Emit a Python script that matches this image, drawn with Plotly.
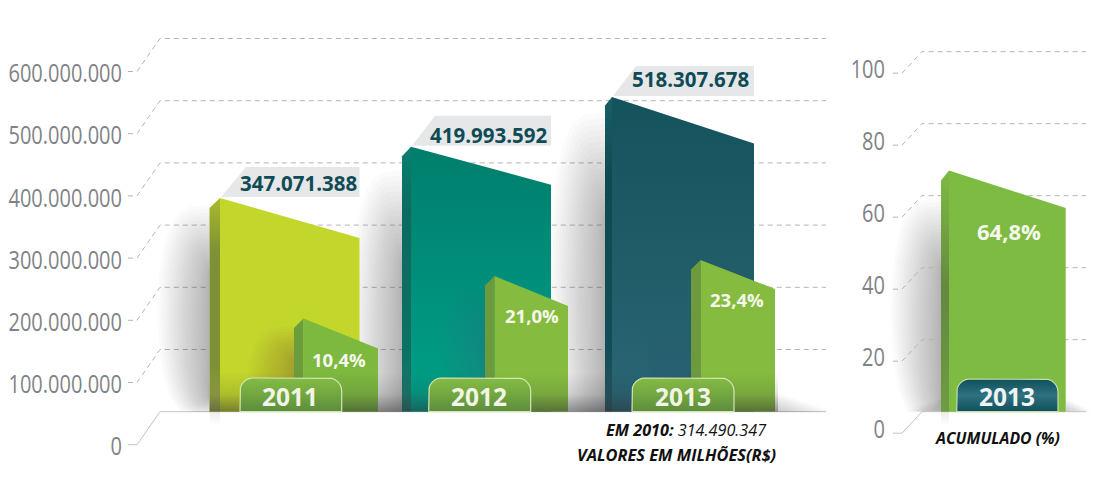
import math
import plotly.graph_objects as go

# ---------- data ----------
years = ["2011", "2012", "2013"]
total_labels = [347071388, 419993592, 518307678]
# bar heights as they are actually drawn in the picture
total_heights = [343500000, 426000000, 506000000]
pct_labels = ["10,4%", "21,0%", "23,4%"]
pct_heights = [150000000, 218000000, 244000000]
left_ticks = [0, 100000000, 200000000, 300000000, 400000000, 500000000, 600000000]
right_ticks = [0, 20, 40, 60, 80, 100]
acc_year = "2013"
acc_label = "64,8%"
acc_height = 67
note_2010 = "<b><i>EM 2010:</i></b> <i>314.490.347</i>"
note_units = "<b><i>VALORES EM MILHÕES(R$)</i></b>"
note_acc = "<b><i>ACUMULADO (%)</i></b>"

# ---------- layout constants (pixels) ----------
W, H = 1107, 489
BASE = 411.7
KL = 62.2 / 100000000   # px per unit, left axis
KR = 3.6                # px per unit, right axis
BOLD = "Open Sans"

BAR_X = [(209.5, 220, 359.5), (402, 411, 551), (605, 612, 754)]
BAR_DROP = [40, 38, 46.5]
BAR_SIDE = [10, 9.5, 8.5]
SMALL_X = [(294, 303.5, 378), (485, 494.5, 568), (691, 700.5, 775)]
SMALL_DROP = [30, 30, 29]
ACC_X = (941, 949, 1065.7)
BADGE_X = [(240, 341.7), (428.7, 530.7), (632, 734)]
ACC_BADGE_X = (956.7, 1058)

FRONT = [["#C3D62B", "#C3D62B"], ["#007E6C", "#00A088"], ["#14525C", "#2A6674"]]
SIDE = [["#A9BA2C", "#7E9134", "#7E9134", "#A7B24A"],
        ["#0A7F6E", "#0C6A5E", "#0D7264", "#1F7A6E"],
        ["#1A5F66", "#0F4A52", "#124E57", "#2A5560"]]
SMALL_FRONT = ["#7DB93F", "#85BC3F", "#85BC3F"]
SMALL_SIDE = ["#6B9C3E", "#6E9A3E", "#6E9A3E"]
SMALL_SHADOW = ["125,100,60", "70,130,120", "75,110,120"]

fig = go.Figure()


def py_left(p):
    return (BASE - p) / KL


def py_right(p):
    return (BASE - p) / KR


def poly(xs, ys, color=None, axis="y", grad=None, line=None):
    kw = {}
    if grad is not None:
        kw["fillgradient"] = grad
    else:
        kw["fillcolor"] = color
    fig.add_trace(go.Scatter(
        x=list(xs) + [xs[0]], y=list(ys) + [ys[0]], mode="lines", fill="toself",
        line=line or dict(width=0), yaxis=axis, hoverinfo="skip", showlegend=False, **kw))


def vgrad(p_top, p_bot, stops, fn=py_left, pos=None):
    # stops listed from top to bottom
    n = len(stops)
    pos = pos or [i / (n - 1) for i in range(n)]
    scale = [[1 - pos[n - 1 - i], stops[n - 1 - i]] for i in range(n)]
    return dict(type="vertical", colorscale=scale, start=fn(p_bot), stop=fn(p_top))


def blob(x1, w, p_top, p_bot, alpha, rgb="70,70,80", fn=py_left, axis="y", layers=22, clip=BASE):
    # soft shadow: nested half-ellipses stacked with a tiny opacity each
    a = alpha / layers
    for i in range(layers):
        t = ((i + 1) / layers) ** 1.2
        top = p_top + (p_bot - p_top) * 0.32 * (1 - t)
        bot = p_bot - (p_bot - p_top) * 0.10 * (1 - t)
        mid, hh = (top + bot) / 2, (bot - top) / 2
        xs, ys = [], []
        for d in range(-90, 91, 10):
            c = max(math.cos(math.radians(d)), 0)
            xs.append(x1 - w * t * c ** 0.55)
            ys.append(fn(min(mid + hh * math.sin(math.radians(d)), clip)))
        poly(xs, ys, color=f"rgba({rgb},{a:.4f})", axis=axis)


def badge(x0, x1, p_top, stops, stroke, fn, axis):
    r = 13
    xs, ys = [x0], [fn(BASE)]
    for a in range(0, 91, 15):
        xs.append(x0 + r - r * math.cos(math.radians(a)))
        ys.append(fn(p_top + r - r * math.sin(math.radians(a))))
    for a in range(90, -1, -15):
        xs.append(x1 - r + r * math.cos(math.radians(a)))
        ys.append(fn(p_top + r - r * math.sin(math.radians(a))))
    xs.append(x1)
    ys.append(fn(BASE))
    poly(xs, ys, axis=axis, grad=vgrad(p_top, BASE, stops, fn), line=dict(width=1.2, color=stroke))


# ---------- grid with slanted connectors ----------
GRID = "#B4B4B4"
for v in left_ticks:
    fig.add_trace(go.Scatter(
        x=[128, 137, 160, 826], y=[v - 33 / KL, v - 33 / KL, v, v], mode="lines",
        line=dict(color=GRID if v else "#C4C4C4", width=1, dash="solid" if v == 0 else "5px,4px"),
        hoverinfo="skip", showlegend=False))
for v in right_ticks:
    fig.add_trace(go.Scatter(
        x=[893, 902, 922, 1086], y=[v - 21.5 / KR, v - 21.5 / KR, v, v], mode="lines", yaxis="y2",
        line=dict(color=GRID if v else "#C4C4C4", width=1, dash="solid" if v == 0 else "5px,4px"),
        hoverinfo="skip", showlegend=False))

# axes that carry the (offset) tick labels
fig.add_trace(go.Scatter(x=[0, 0], y=[0, 600000000], mode="lines", yaxis="y3",
                         line=dict(width=0), hoverinfo="skip", showlegend=False))
fig.add_trace(go.Scatter(x=[0, 0], y=[0, 100], mode="lines", yaxis="y4",
                         line=dict(width=0), hoverinfo="skip", showlegend=False))

# ---------- soft shadows on the page ----------
blob(209.5, 52, 205, 418, 0.5)
blob(402, 52, 170, 470, 0.54)
blob(605, 56, 112, 450, 0.53)
blob(941, 50, 198, 425, 0.53)

# ---------- main bars ----------
for i in range(3):
    xa, xb, xc = BAR_X[i]
    top = total_heights[i]
    drop = BAR_DROP[i] / KL
    side = BAR_SIDE[i] / KL
    p_top = BASE - top * KL
    poly([xa, xb, xb, xa], [top - side, top, 0, 0],
         grad=vgrad(p_top, BASE, SIDE[i], pos=[0, 0.25, 0.8, 1]))
    poly([xb, xc, xc, xb], [top, top - drop, 0, 0], grad=vgrad(p_top, BASE, FRONT[i]))
    # grey label tag
    tag_h = 30 / KL
    xt = xb + 26 if i == 0 else xb + 24
    poly([xb + 1, xt, xc, xc], [top + 1 / KL, top + tag_h + 1 / KL, top + tag_h + 1 / KL, top + 1 / KL],
         color="#E6E7E8")

# ---------- small bars ----------
for i in range(3):
    xa, xb, xc = SMALL_X[i]
    top = pct_heights[i]
    drop = SMALL_DROP[i] / KL
    side = 9.5 / KL
    p_top = BASE - top * KL
    blob(xa, 46, p_top + 8, BASE + 25, 0.5, rgb=SMALL_SHADOW[i], layers=16)
    poly([xa, xb, xb, xa], [top - side, top, 0, 0], color=SMALL_SIDE[i])
    poly([xb, xc, xc, xb], [top, top - drop, 0, 0], color=SMALL_FRONT[i])

# ---------- accumulated bar ----------
xa, xb, xc = ACC_X
poly([xa, xb, xb, xa], [acc_height - 10 / KR, acc_height, 0, 0], axis="y2",
     grad=vgrad(171, BASE, ["#7EBB42", "#64883F", "#6F9C42"], py_right))
poly([xb, xc, xc, xb], [acc_height, acc_height - 37.5 / KR, 0, 0], color="#7EBB42", axis="y2")

# ---------- darkening towards the floor ----------
FLOOR = ["rgba(45,45,50,0)", "rgba(45,45,50,0.14)", "rgba(45,45,50,0.52)"]
poly([209.5, 778, 778, 209.5], [py_left(372), py_left(372), 0, 0],
     grad=vgrad(372, BASE, FLOOR, pos=[0, 0.55, 1]))
for i in range(16):
    xe = 778 + 3.2 * (i + 1)
    pt = 411 - (16 - i) * 1.1
    poly([778, xe, xe, 778], [py_left(pt), py_left(pt), 0, 0], color="rgba(60,60,65,0.016)")
poly([941, 1066, 1066, 941], [py_left(396), py_left(396), 0, 0],
     grad=vgrad(396, BASE, ["rgba(45,45,45,0)", "rgba(45,45,45,0.22)"]))
for i in range(10):
    xs0 = 941 - 3.5 * (i + 1)
    xs1 = 1066 + 2.4 * (i + 1)
    pt = 411 - (10 - i) * 1.2
    poly([xs0, 941, 941, xs0], [py_left(pt), py_left(pt), 0, 0], color="rgba(60,60,65,0.018)")
    poly([1066, xs1, xs1, 1066], [py_left(pt), py_left(pt), 0, 0], color="rgba(60,60,65,0.024)")

# ---------- faint reflection below the floor ----------
for xa, xb in [BAR_X[0][:2], ACC_X[:2]]:
    poly([xa, xb, xb, xa], [0, 0, py_left(426), py_left(426)],
         grad=vgrad(BASE, 426, ["rgba(150,150,110,0.16)", "rgba(150,150,110,0)"]))

# ---------- year badges ----------
for i in range(3):
    x0, x1 = BADGE_X[i]
    badge(x0, x1, 378, ["#84BB44", "#72A640", "#5C8C3E"], "#D4E5B4", py_left, "y")
    fig.add_annotation(x=(x0 + x1) / 2 - 0.5, y=py_left(396.5), text=f"<b>{years[i]}</b>", showarrow=False,
                       font=dict(family=BOLD, size=24.5, color="#F2F5E6"))
badge(ACC_BADGE_X[0], ACC_BADGE_X[1], 379, ["#0F505C", "#2F7180", "#10505C"], "#C7DDB0", py_right, "y2")
fig.add_annotation(x=sum(ACC_BADGE_X) / 2, y=py_left(396.5), text=f"<b>{acc_year}</b>", showarrow=False,
                   font=dict(family=BOLD, size=24.5, color="#F0F3F3"))

# ---------- value labels ----------
LBL_X = [298.5, 488, 690]
LBL_P = [183, 135, 79]
for i in range(3):
    fig.add_annotation(x=LBL_X[i], y=py_left(LBL_P[i]), showarrow=False,
                       text="<b>" + f"{total_labels[i]:,}".replace(",", ".") + "</b>",
                       font=dict(family=BOLD, size=20.5, color="#0F4B55"))
PCT_X = [339, 532, 737]
PCT_P = [359, 315, 299]
for i in range(3):
    fig.add_annotation(x=PCT_X[i], y=py_left(PCT_P[i]), text=f"<b>{pct_labels[i]}</b>", showarrow=False,
                       font=dict(family=BOLD, size=18.5, color="#F6F8EE"))
fig.add_annotation(x=1009, y=py_left(231), text=f"<b>{acc_label}</b>", showarrow=False,
                   font=dict(family=BOLD, size=22, color="#F6F8EE"))

# ---------- notes ----------
fig.add_annotation(x=686, y=py_left(430), text=note_2010, showarrow=False,
                   font=dict(family=BOLD, size=16.2, color="#111111"))
fig.add_annotation(x=676, y=py_left(454), text=note_units, showarrow=False,
                   font=dict(family=BOLD, size=16.4, color="#111111"))
fig.add_annotation(x=997.5, y=py_left(438), text=note_acc, showarrow=False,
                   font=dict(family=BOLD, size=15.8, color="#111111"))

# ---------- axes ----------
TICK_FONT = dict(family="Open Sans", size=26, color="#808285")
hidden = dict(visible=False, fixedrange=True, automargin=False)
fig.update_layout(
    width=W, height=H,
    margin=dict(l=0, r=0, t=0, b=0),
    paper_bgcolor="white", plot_bgcolor="white",
    separators=",.",
    showlegend=False,
    xaxis=dict(range=[0, W], **hidden),
    yaxis=dict(range=[(BASE - H) / KL, BASE / KL], **hidden),
    yaxis2=dict(range=[(BASE - H) / KR, BASE / KR], overlaying="y", anchor="free", position=0, **hidden),
    yaxis3=dict(range=[(446.2 - H) / KL, 446.2 / KL], overlaying="y", anchor="free", position=122 / W,
                side="left", tickmode="array", tickvals=left_ticks, tickformat=",d", showgrid=False,
                zeroline=False, showline=False, ticks="", tickfont=TICK_FONT, fixedrange=True,
                automargin=False),
    yaxis4=dict(range=[(428.5 - H) / KR, 428.5 / KR], overlaying="y", anchor="free", position=885 / W,
                side="left", tickmode="array", tickvals=right_ticks, showgrid=False,
                zeroline=False, showline=False, ticks="", tickfont=TICK_FONT, fixedrange=True,
                automargin=False),
)

# the reference uses a condensed face: squeeze the real tick text horizontally
POST = """
document.body.style.margin='0';document.body.style.overflow='hidden';
function squeeze(){
  document.querySelectorAll('.y3tick text, .y4tick text').forEach(function(t){
    if(t.getAttribute('data-sq')) return;
    t.setAttribute('data-sq','1');
    t.setAttribute('lengthAdjust','spacingAndGlyphs');
    t.setAttribute('textLength', t.getComputedTextLength()*0.77);
  });
}
squeeze();setTimeout(squeeze,50);setTimeout(squeeze,300);
"""
fig.write_html("out.html", config={"displayModeBar": False}, post_script=POST)
